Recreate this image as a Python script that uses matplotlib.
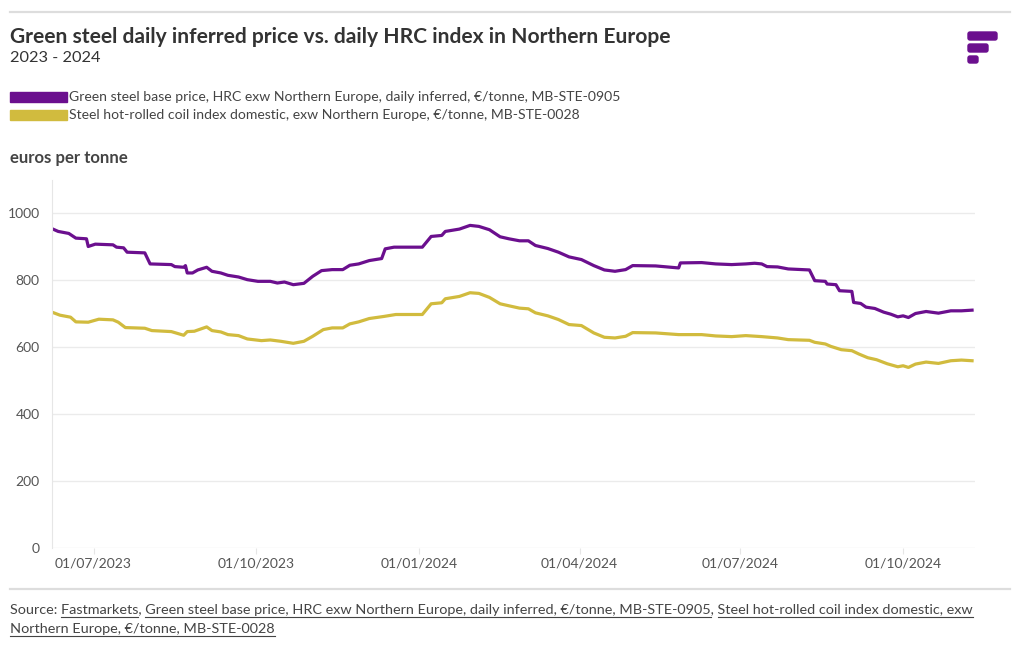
import matplotlib
matplotlib.use("Agg")
import matplotlib.pyplot as plt
import matplotlib.dates as mdates
from matplotlib.patches import FancyBboxPatch, Rectangle
from matplotlib.lines import Line2D
from matplotlib.transforms import IdentityTransform
import pandas as pd

W, H = 1020, 650
PURPLE = "#6b0f8e"
GOLD = "#d1bb3e"
FONT = "Lato"

# Green steel base price, HRC exw Northern Europe, daily inferred (EUR/t)
green_dates = [
    "2023-06-08", "2023-06-11", "2023-06-17", "2023-06-21", "2023-06-27", "2023-06-28",
    "2023-07-02", "2023-07-12", "2023-07-14", "2023-07-18", "2023-07-20", "2023-07-30",
    "2023-08-02", "2023-08-14", "2023-08-16", "2023-08-21", "2023-08-22", "2023-08-23",
    "2023-08-26", "2023-08-29", "2023-09-03", "2023-09-06", "2023-09-11", "2023-09-15",
    "2023-09-21", "2023-09-26", "2023-10-02", "2023-10-09", "2023-10-13", "2023-10-17",
    "2023-10-22", "2023-10-28", "2023-11-02", "2023-11-07", "2023-11-13", "2023-11-19",
    "2023-11-23", "2023-11-28", "2023-12-04", "2023-12-11", "2023-12-13", "2023-12-18",
    "2024-01-03", "2024-01-08", "2024-01-14", "2024-01-16", "2024-01-24", "2024-01-30",
    "2024-02-04", "2024-02-10", "2024-02-16", "2024-02-21", "2024-02-27", "2024-03-03",
    "2024-03-07", "2024-03-14", "2024-03-20", "2024-03-26", "2024-04-02", "2024-04-09",
    "2024-04-15", "2024-04-21", "2024-04-27", "2024-05-01", "2024-05-14", "2024-05-27",
    "2024-05-28", "2024-06-09", "2024-06-17", "2024-06-26", "2024-07-04", "2024-07-09",
    "2024-07-13", "2024-07-16", "2024-07-22", "2024-07-28", "2024-08-09", "2024-08-12",
    "2024-08-18", "2024-08-19", "2024-08-24", "2024-08-26", "2024-09-02", "2024-09-03",
    "2024-09-07", "2024-09-10", "2024-09-15", "2024-09-20", "2024-09-24", "2024-09-28",
    "2024-10-01", "2024-10-04", "2024-10-08", "2024-10-14", "2024-10-21", "2024-10-28",
    "2024-11-03", "2024-11-09",
]
green_price = [
    952, 945, 939, 925, 923, 900,
    907, 905, 898, 896, 883, 881,
    848, 846, 840, 838, 843, 821,
    821, 830, 838, 826, 821, 814,
    809, 801, 796, 796, 791, 794,
    786, 790, 811, 828, 831, 831,
    844, 848, 858, 864, 893, 898,
    898, 930, 933, 945, 952, 963,
    960, 950, 929, 923, 917, 917,
    903, 894, 883, 869, 861, 843,
    830, 826, 831, 843, 842, 836,
    851, 852, 848, 846, 848, 850,
    848, 840, 839, 833, 830, 798,
    796, 788, 786, 768, 766, 733,
    730, 719, 715, 704, 698, 690,
    693, 688, 700, 706, 701, 708,
    708, 710,
]

# Steel hot-rolled coil index domestic, exw Northern Europe (EUR/t)
hrc_dates = [
    "2023-06-08", "2023-06-12", "2023-06-18", "2023-06-21", "2023-06-28", "2023-07-04",
    "2023-07-12", "2023-07-15", "2023-07-19", "2023-07-30", "2023-08-03", "2023-08-14",
    "2023-08-21", "2023-08-23", "2023-08-27", "2023-09-03", "2023-09-06", "2023-09-11",
    "2023-09-15", "2023-09-21", "2023-09-26", "2023-10-04", "2023-10-09", "2023-10-15",
    "2023-10-22", "2023-10-28", "2023-11-02", "2023-11-08", "2023-11-13", "2023-11-19",
    "2023-11-23", "2023-11-28", "2023-12-04", "2023-12-12", "2023-12-19", "2024-01-03",
    "2024-01-08", "2024-01-14", "2024-01-16", "2024-01-24", "2024-01-30", "2024-02-04",
    "2024-02-10", "2024-02-16", "2024-02-21", "2024-02-27", "2024-03-03", "2024-03-07",
    "2024-03-14", "2024-03-20", "2024-03-26", "2024-04-02", "2024-04-09", "2024-04-15",
    "2024-04-21", "2024-04-27", "2024-05-01", "2024-05-14", "2024-05-27", "2024-06-09",
    "2024-06-17", "2024-06-26", "2024-07-04", "2024-07-13", "2024-07-22", "2024-07-28",
    "2024-08-09", "2024-08-12", "2024-08-18", "2024-08-21", "2024-08-27", "2024-09-02",
    "2024-09-06", "2024-09-11", "2024-09-16", "2024-09-22", "2024-09-28", "2024-10-01",
    "2024-10-04", "2024-10-08", "2024-10-14", "2024-10-21", "2024-10-28", "2024-11-03",
    "2024-11-09",
]
hrc_price = [
    703, 695, 689, 675, 674, 683,
    681, 674, 658, 656, 649, 646,
    635, 646, 647, 660, 649, 645,
    637, 634, 624, 619, 621, 617,
    611, 617, 632, 652, 657, 657,
    669, 675, 685, 691, 697, 697,
    729, 732, 744, 751, 762, 760,
    748, 729, 723, 716, 714, 702,
    693, 682, 667, 664, 642, 629,
    627, 632, 643, 642, 637, 637,
    633, 631, 634, 631, 627, 622,
    620, 614, 609, 602, 592, 589,
    579, 568, 562, 550, 541, 544,
    539, 549, 555, 551, 559, 561,
    559,
]

title = "Green steel daily inferred price vs. daily HRC index in Northern Europe"
subtitle = "2023 - 2024"
series_names = [
    "Green steel base price, HRC exw Northern Europe, daily inferred, \u20ac/tonne, MB-STE-0905",
    "Steel hot-rolled coil index domestic, exw Northern Europe, \u20ac/tonne, MB-STE-0028",
]
y_label = "euros per tonne"


def fx(x):
    return x / W


def fy(y):
    return 1 - y / H


fig = plt.figure(figsize=(W / 100, H / 100), dpi=100)
fig.patch.set_facecolor("white")

# axes placed in pixel terms of the reference
ax = fig.add_axes([fx(52), fy(548), fx(975) - fx(52), fy(179.5) - fy(548)])
ax.plot(pd.to_datetime(green_dates), green_price, color=PURPLE, lw=2.3, solid_joinstyle="round")
ax.plot(pd.to_datetime(hrc_dates), hrc_price, color=GOLD, lw=2.3, solid_joinstyle="round")

ax.set_xlim(pd.Timestamp("2023-06-07 12:00"), pd.Timestamp("2024-11-10 16:00"))
ax.set_ylim(0, 1100)
ax.set_yticks([0, 200, 400, 600, 800, 1000])
ax.xaxis.set_major_locator(mdates.MonthLocator(bymonth=[1, 4, 7, 10]))
ax.xaxis.set_major_formatter(mdates.DateFormatter("%d/%m/%Y"))

ax.grid(axis="y", color="#ebebeb", lw=1)
ax.set_axisbelow(True)
for s in ["top", "right", "bottom"]:
    ax.spines[s].set_visible(False)
ax.spines["left"].set_color("#e6e6e6")
ax.tick_params(axis="y", length=0, pad=9, labelsize=10, labelcolor="#555555")
ax.tick_params(axis="x", length=4, color="#e6e6e6", pad=3, labelsize=10, labelcolor="#555555")
for lab in ax.get_xticklabels() + ax.get_yticklabels():
    lab.set_fontfamily(FONT)

# header
fig.add_artist(Line2D([fx(10), fx(1010)], [fy(12), fy(12)], color="#dddddd", lw=1.6))
fig.text(fx(10), fy(37), title, fontsize=15.1, fontweight="bold", family=FONT,
         color="#333333", va="center")
fig.text(fx(10), fy(58), subtitle, fontsize=11.8, family=FONT, color="#333333", va="center")

# logo
logo_bars = [(968, 32, 29, 8), (968, 44, 20, 8), (968, 56, 10, 7)]
for bx, by, bw, bh in logo_bars:
    fig.patches.append(FancyBboxPatch((bx, H - by - bh), bw, bh,
                                      boxstyle="round,pad=0,rounding_size=2",
                                      transform=IdentityTransform(), color=PURPLE,
                                      figure=fig))

# legend
for i, (name, col) in enumerate(zip(series_names, [PURPLE, GOLD])):
    ytop = 92 + 18 * i
    fig.patches.append(Rectangle((fx(10), fy(ytop + 10)), fx(67) - fx(10), fy(ytop) - fy(ytop + 10),
                                 transform=fig.transFigure, color=col, figure=fig))
    fig.text(fx(69), fy(ytop + 5), name, fontsize=10.05, family=FONT, color="#444444", va="center")

fig.text(fx(10), fy(158), y_label, fontsize=12.1, fontweight="bold", family=FONT,
         color="#444444", va="center")

# footer
fig.add_artist(Line2D([fx(10), fx(1010)], [fy(589), fy(589)], color="#dddddd", lw=1.6))

src_lines = [
    [("Source: ", False), ("Fastmarkets", True), (", ", False),
     ("Green steel base price, HRC exw Northern Europe, daily inferred, \u20ac/tonne, MB-STE-0905", True),
     (", ", False), ("Steel hot-rolled coil index domestic, exw", True)],
    [("Northern Europe, \u20ac/tonne, MB-STE-0028", True)],
]
renderer = fig.canvas.get_renderer()
src_kw = dict(fontsize=10.36, family=FONT, color="#444444")


def text_width(s):
    t = fig.text(0, 0, s, **src_kw)
    w = t.get_window_extent(renderer).width
    t.remove()
    return w


for row, pieces in enumerate(src_lines):
    base_y = 614 + 19 * row
    full = "".join(p for p, _ in pieces)
    fig.text(fx(10), fy(base_y), full, va="baseline", **src_kw)
    prefix = ""
    for piece, underline in pieces:
        if underline:
            x1 = 10 + text_width(prefix + piece)
            x0 = x1 - text_width(piece)
            fig.add_artist(Line2D([fx(x0), fx(x1)], [fy(base_y + 2.5), fy(base_y + 2.5)],
                                  color="#444444", lw=0.8))
        prefix += piece

fig.savefig("out.png", dpi=100, facecolor="white")
